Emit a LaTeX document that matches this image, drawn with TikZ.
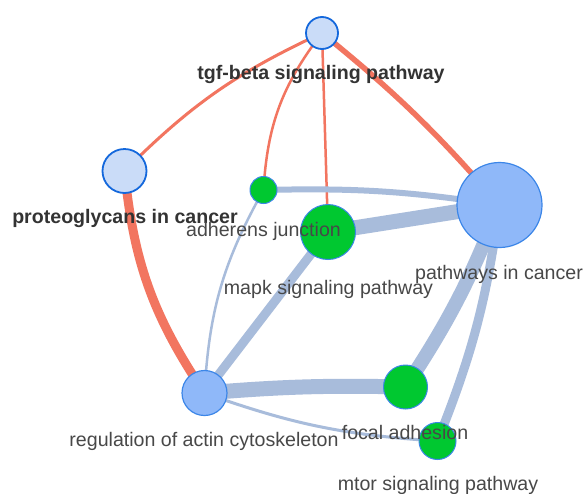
\documentclass[tikz,border=0pt]{standalone}
\usepackage{fontspec}
\setmainfont{Liberation Sans}
\pgfdeclarelayer{bg}
\pgfdeclarelayer{edges}
\pgfsetlayers{bg,edges,main}
\definecolor{redE}{RGB}{242,117,96}
\definecolor{blueE}{RGB}{168,188,219}
\definecolor{lightF}{RGB}{202,220,248}
\definecolor{darkB}{RGB}{20,104,220}
\definecolor{bigF}{RGB}{143,184,249}
\definecolor{bigB}{RGB}{60,134,232}
\definecolor{greenF}{RGB}{0,200,48}
\definecolor{txtB}{RGB}{51,51,51}
\definecolor{txtR}{RGB}{72,72,72}
\tikzset{
  lightnode/.style={circle, fill=lightF, draw=darkB, line width=1.8pt, minimum size=#1, inner sep=0pt},
  bignode/.style={circle, fill=bigF, draw=bigB, line width=1.2pt, minimum size=#1, inner sep=0pt},
  greennode/.style={circle, fill=greenF, draw=bigB, line width=1pt, minimum size=#1, inner sep=0pt},
  boldlab/.style={anchor=base, font=\fontsize{19.6}{22}\selectfont\bfseries, text=txtB, inner sep=0pt},
  reglab/.style={anchor=base, font=\fontsize{19.6}{22}\selectfont, text=txtR, inner sep=0pt},
  redge/.style={draw=redE, line width=#1},
  bedge/.style={draw=blueE, line width=#1},
}
\begin{document}
\begin{tikzpicture}[x=1pt,y=-1pt]
\begin{pgfonlayer}{bg}
\fill[white] (0,0) rectangle (585,493);
\end{pgfonlayer}
\useasboundingbox (0,0) rectangle (585,493);
\node[lightnode=32pt] (tgf) at (322,33) {};
\node[lightnode=44pt] (prot) at (124.5,171) {};
\node[greennode=27pt] (adh) at (263.5,190) {};
\node[greennode=55pt] (mapk) at (328,232) {};
\node[bignode=85pt] (pic) at (499.5,205) {};
\node[bignode=45pt] (rac) at (204.5,393) {};
\node[greennode=44pt] (foc) at (405.5,387) {};
\node[greennode=37pt] (mtor) at (437.5,441) {};
\begin{pgfonlayer}{edges}
\draw[redge=3pt] (tgf.center) to[bend right=10] (prot.center);
\draw[redge=2.5pt] (tgf.center) to[bend right=17] (adh.center);
\draw[redge=2.5pt] (tgf.center) to (mapk.center);
\draw[redge=5.5pt] (tgf.center) to[bend left=5] (pic.center);
\draw[redge=9pt] (prot.center) to[bend right=14] (rac.center);
\draw[bedge=6pt] (adh.center) to[bend left=5] (pic.center);
\draw[bedge=15pt] (mapk.center) to (pic.center);
\draw[bedge=2.5pt] (adh.center) to[bend right=13] (rac.center);
\draw[bedge=9pt] (mapk.center) to (rac.center);
\draw[bedge=15pt] (rac.center) to[bend left=3] (foc.center);
\draw[bedge=3pt] (rac.center) to[bend right=8] (mtor.center);
\draw[bedge=14pt] (pic.center) to[bend left=6] (foc.center);
\draw[bedge=9pt] (pic.center) to[bend left=7] (mtor.center);
\end{pgfonlayer}
\node[boldlab] (tgfL) at (321,79) {tgf-beta signaling pathway};
\node[boldlab] (protL) at (125,223) {proteoglycans in cancer};
\node[reglab] (adhL) at (263.5,236) {adherens junction};
\node[reglab] (mapkL) at (328.5,294) {mapk signaling pathway};
\node[reglab] (picL) at (499,279) {pathways in cancer};
\node[reglab] (racL) at (204,446) {regulation of actin cytoskeleton};
\node[reglab] (focL) at (405,439) {focal adhesion};
\node[reglab] (mtorL) at (438,490) {mtor signaling pathway};
\end{tikzpicture}
\end{document}
